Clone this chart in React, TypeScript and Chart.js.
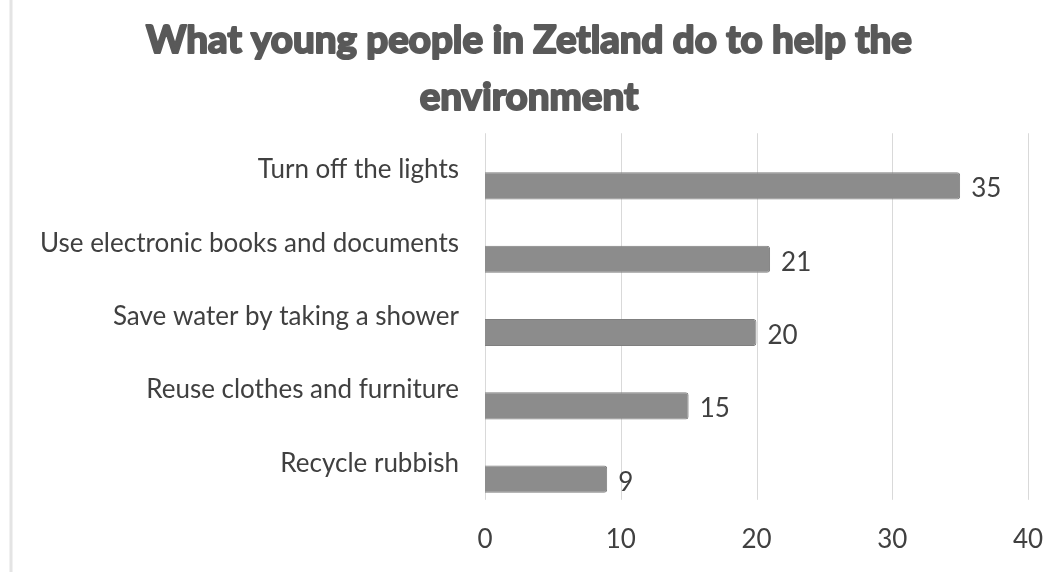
import React, { useEffect, useRef } from "react";
import { Chart, registerables } from "chart.js";

Chart.register(...registerables);

const titleLines = ["What young people in Zetland do to help the", "environment"];
const categories = [
  "Turn off the lights",
  "Use electronic books and documents",
  "Save water by taking a shower",
  "Reuse clothes and furniture",
  "Recycle rubbish",
];
const values = [35, 21, 20, 15, 9];
const xTicks = [0, 10, 20, 30, 40];

const LABEL_SHIFT = 16;
const TITLE_SIZE = 38.6;
const TITLE_LH = 1.48;
const TITLE_PAD_TOP = 12;

const framePlugin = {
  id: "frame",
  beforeDraw(chart: any) {
    const { ctx, height } = chart;
    ctx.save();
    ctx.fillStyle = "#ffffff";
    ctx.fillRect(0, 0, chart.width, height);
    ctx.strokeStyle = "#e4e4e4";
    ctx.lineWidth = 3;
    ctx.beginPath();
    ctx.moveTo(11, 0);
    ctx.lineTo(11, height);
    ctx.stroke();
    ctx.restore();
  },
  beforeDatasetsDraw(chart: any) {
    const { ctx, chartArea } = chart;
    const xs = chart.scales.x;
    ctx.save();
    ctx.strokeStyle = "#d9d9d9";
    ctx.lineWidth = 1;
    xTicks.forEach((t) => {
      const px = Math.round(xs.getPixelForValue(t)) + 0.5;
      ctx.beginPath();
      ctx.moveTo(px, chartArea.top - LABEL_SHIFT);
      ctx.lineTo(px, chartArea.bottom - LABEL_SHIFT);
      ctx.stroke();
    });
    ctx.restore();
  },
  afterDatasetsDraw(chart: any) {
    const { ctx } = chart;
    const meta = chart.getDatasetMeta(0);
    ctx.save();
    ctx.fillStyle = "#404040";
    ctx.font = "26px Lato";
    ctx.textAlign = "left";
    ctx.textBaseline = "middle";
    meta.data.forEach((bar: any, i: number) => {
      ctx.fillText(String(values[i]), bar.x + 11, bar.y + 3);
    });
    ctx.restore();
  },
  afterDraw(chart: any) {
    // thicken the title strokes to mimic a black-weight face
    const tb = chart.titleBlock;
    if (!tb) return;
    const { ctx } = chart;
    const lh = TITLE_SIZE * TITLE_LH;
    const cx = tb.left + tb.width / 2;
    ctx.save();
    ctx.font = `bold ${TITLE_SIZE}px Lato`;
    ctx.textAlign = "center";
    ctx.textBaseline = "middle";
    ctx.strokeStyle = "#595959";
    ctx.lineWidth = 2.2;
    ctx.lineJoin = "round";
    titleLines.forEach((line, i) => {
      ctx.strokeText(line, cx, tb.top + TITLE_PAD_TOP + lh / 2 + i * lh);
    });
    ctx.restore();
  },
};

export default function App() {
  const ref = useRef<HTMLCanvasElement>(null);
  useEffect(() => {
    if (!ref.current) return;
    const chart = new Chart(ref.current, {
      type: "bar",
      data: {
        labels: categories,
        datasets: [
          {
            data: values,
            backgroundColor: "#8c8c8c",
            borderColor: "#7f7f7f",
            borderWidth: 1,
            borderRadius: 3,
            borderSkipped: "start",
            categoryPercentage: 1,
            barPercentage: 0.37,
          },
        ],
      },
      options: {
        indexAxis: "y",
        animation: false,
        responsive: true,
        maintainAspectRatio: false,
        layout: { padding: { left: 30, right: 23, top: 0, bottom: 17 } },
        plugins: {
          legend: { display: false },
          tooltip: { enabled: false },
          title: {
            display: true,
            text: titleLines,
            color: "#595959",
            font: { family: "Lato", size: TITLE_SIZE, weight: "bold", lineHeight: TITLE_LH },
            padding: { top: TITLE_PAD_TOP, bottom: 23 },
          },
        },
        scales: {
          x: {
            min: 0,
            max: 40,
            grid: { display: false },
            border: { display: false },
            ticks: {
              stepSize: 10,
              color: "#404040",
              font: { family: "Lato", size: 26 },
              padding: 0,
            },
          },
          y: {
            grid: { display: false },
            border: { display: false },
            afterFit(scale: any) {
              scale.width = 485 - 30;
            },
            ticks: {
              color: "#404040",
              font: { family: "Lato", size: 26 },
              padding: 18,
              labelOffset: -LABEL_SHIFT,
            },
          },
        },
      },
      plugins: [framePlugin],
    });
    return () => chart.destroy();
  }, []);
  return (
    <div style={{ position: "fixed", left: 0, top: 0, width: 1051, height: 572 }}>
      <canvas ref={ref} />
    </div>
  );
}
